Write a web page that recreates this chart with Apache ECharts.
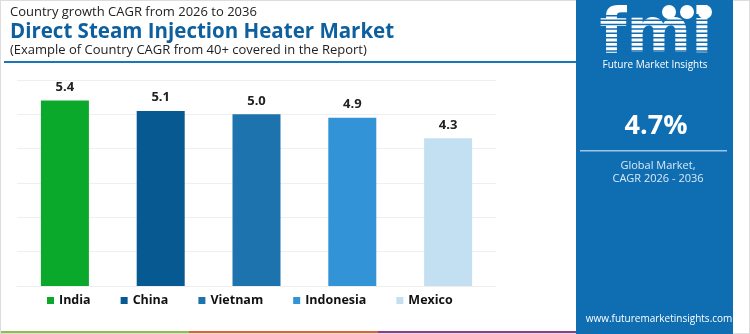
<!DOCTYPE html>
<html><head><meta charset="utf-8">
<script src="https://cdn.jsdelivr.net/npm/echarts@6/dist/echarts.min.js"></script>
<style>html,body{margin:0;padding:0;background:#fff}#c{width:750px;height:334px}</style>
</head><body><div id="c"></div>
<script>
const categories = ['India','China','Vietnam','Indonesia','Mexico'];
const values = [5.4, 5.1, 5.0, 4.9, 4.3];
const colors = ['#0aa92c','#065a91','#1c73ad','#3293d6','#c2e0f2'];
const yTicks = {min:0, max:6, interval:1};
const titleLines = ['Country growth CAGR from 2026 to 2036','Direct Steam Injection Heater Market','(Example of Country CAGR from 40+ covered in the Report)'];
const globalCagr = '4.7%';

const F = '"Open Sans", sans-serif';
const chart = echarts.init(document.getElementById('c'));
const series = categories.map((name,i)=>({
  name, type:'bar', stack:'s', barWidth:48,
  itemStyle:{color:colors[i]},
  data: categories.map((c,j)=> j===i ? values[i] : null),
  label:{show:true, position:'top', distance:7, color:'#222', fontFamily:F, fontWeight:'bold', fontSize:13, formatter:p=>p.value.toFixed(1)}
}));
const stripes = [];
for(let k=0;k<10;k++){ stripes.push({type:'rect', shape:{x:596, y:15+k*4.4, width:122, height:1.5}, style:{fill:'#0f6db2'}, z:120}); }
chart.setOption({
  animation:false,
  grid:{left:17, right:254, top:80, bottom:48},
  xAxis:{type:'category', data:categories, axisLine:{show:true, lineStyle:{color:'#eeeeee'}}, axisTick:{show:false}, axisLabel:{show:false}},
  yAxis:{type:'value', min:yTicks.min, max:yTicks.max, interval:yTicks.interval, axisLabel:{show:false}, axisLine:{show:false}, axisTick:{show:false}, splitLine:{lineStyle:{color:'#efefef'}}},
  legend:{left:47, top:294, padding:0, itemWidth:7, itemHeight:7, itemGap:30, icon:'rect', textStyle:{fontFamily:F, fontWeight:'bold', fontSize:12.5, color:'#111'}, data:categories},
  series,
  graphic:[
    {type:'rect', shape:{x:0,y:0,width:750,height:334}, style:{fill:'none', stroke:'#dddddd', lineWidth:2}, z:1, silent:true},
    {type:'text', left:10, top:6, style:{text:titleLines[0], font:'13px '+F, fill:'#222'}},
    {type:'text', left:10, top:22, style:{text:titleLines[1], font:'bold 20.5px '+F, fill:'#0d5f9e'}},
    {type:'text', left:10, top:44, style:{text:titleLines[2], font:'13px '+F, fill:'#222'}},
    {type:'rect', shape:{x:4,y:61,width:572,height:2}, style:{fill:'#1a76b8'}},
    {type:'rect', shape:{x:0,y:331,width:189,height:3}, style:{fill:'#8cbf4e'}},
    {type:'rect', shape:{x:189,y:331,width:189,height:3}, style:{fill:'#dd6433'}},
    {type:'rect', shape:{x:378,y:331,width:198,height:3}, style:{fill:'#8e3c94'}},
    {type:'rect', shape:{x:576,y:0,width:157,height:334}, style:{fill:'#0f6db2'}, z:100},
    {type:'text', x:656, y:36, style:{text:'fmi', font:'bold 62px "DejaVu Sans", sans-serif', fill:'#ffffff', align:'center', verticalAlign:'middle'}, z:110},
    ...stripes,
    {type:'circle', shape:{cx:669, cy:12, r:7}, style:{fill:'#ffffff'}, z:130},
    {type:'circle', shape:{cx:687, cy:12, r:7}, style:{fill:'#ffffff'}, z:130},
    {type:'circle', shape:{cx:705, cy:12, r:7}, style:{fill:'#ffffff'}, z:130},
    {type:'text', x:655, y:65, style:{text:'Future Market Insights', font:'10px '+F, fill:'#ffffff', align:'center', verticalAlign:'middle'}, z:110},
    {type:'text', x:656, y:126, style:{text:globalCagr, font:'bold 27px '+F, fill:'#ffffff', align:'center', verticalAlign:'middle'}, z:110},
    {type:'rect', shape:{x:580,y:150,width:147,height:1.5}, style:{fill:'#9cc6e8'}, z:110},
    {type:'text', x:658, y:166, style:{text:'Global Market,', font:'11px '+F, fill:'#dbeaf6', align:'center', verticalAlign:'middle'}, z:110},
    {type:'text', x:658, y:179, style:{text:'CAGR 2026 - 2036', font:'11px '+F, fill:'#dbeaf6', align:'center', verticalAlign:'middle'}, z:110},
    {type:'text', x:659, y:319, style:{text:'www.futuremarketinsights.com', font:'10px '+F, fill:'#ffffff', align:'center', verticalAlign:'middle'}, z:110}
  ]
});
</script></body></html>
